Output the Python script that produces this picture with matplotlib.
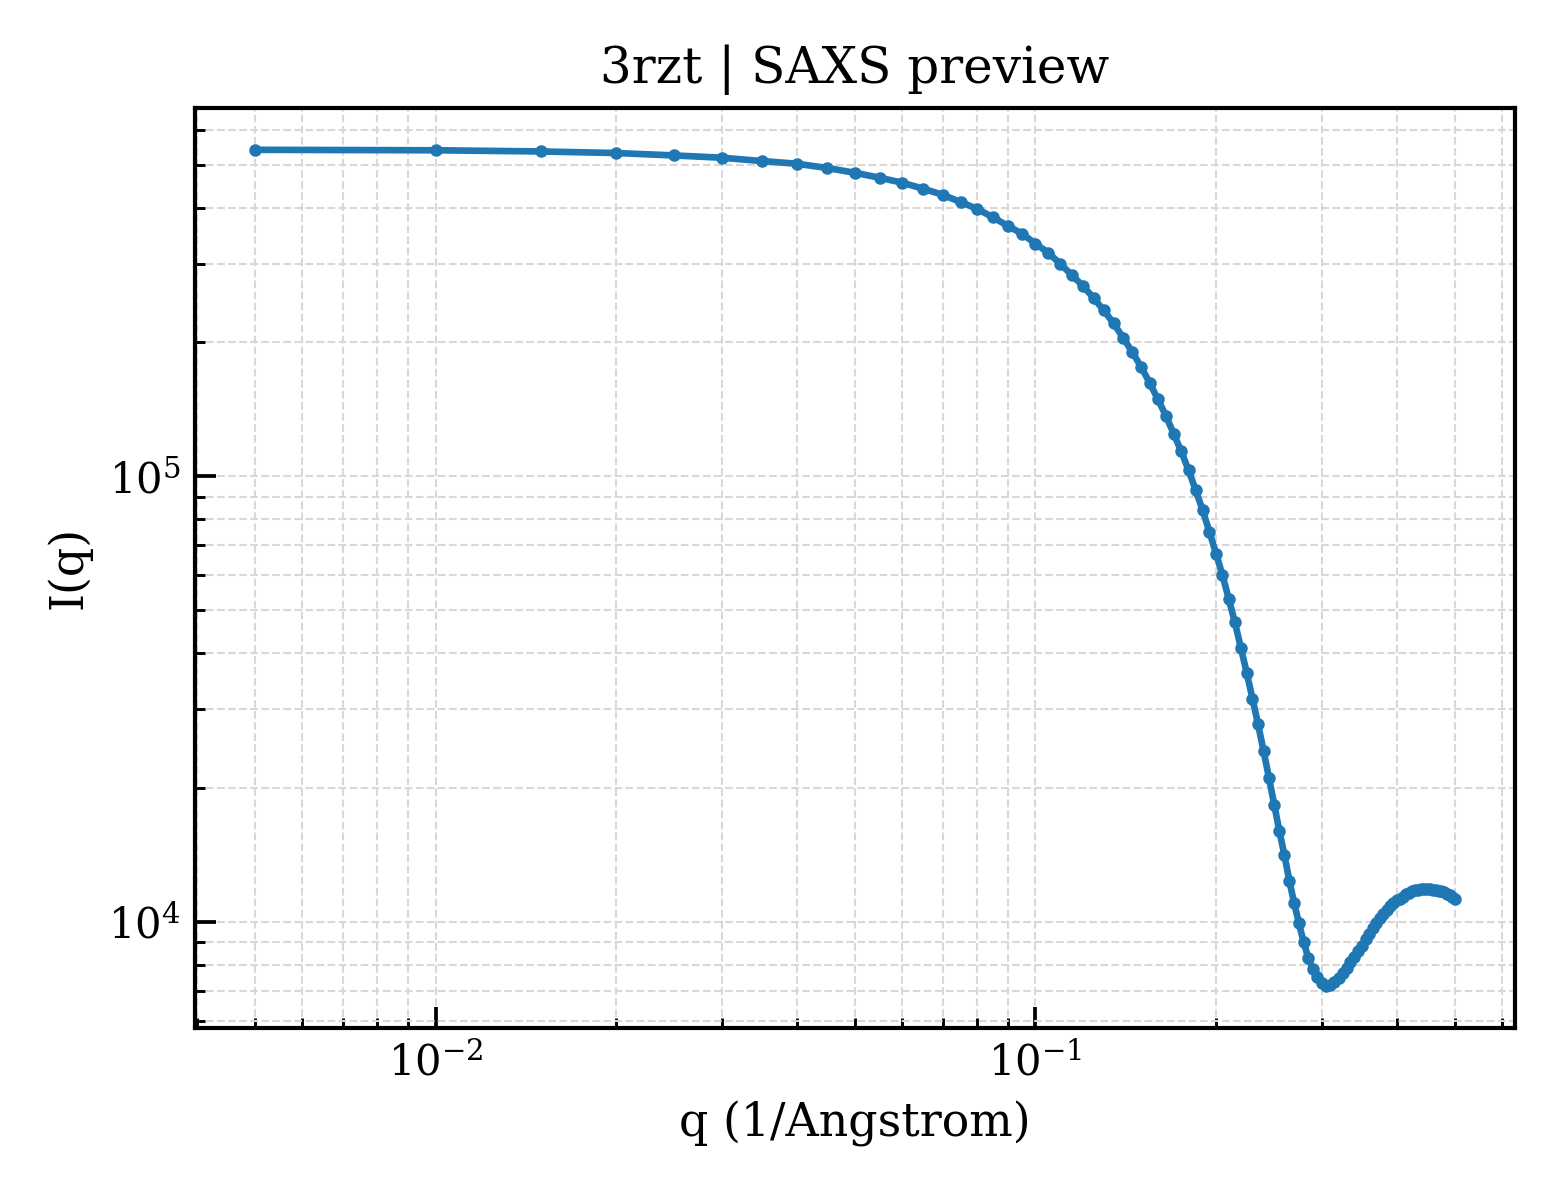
import matplotlib
matplotlib.use("Agg")
from matplotlib import pyplot as plt

q = [round(0.005 * (i + 1), 3) for i in range(100)]
intensity = [
    5.405e5, 5.392e5, 5.359e5, 5.316e5, 5.250e5, 5.188e5, 5.100e5, 5.030e5, 4.919e5, 4.800e5,
    4.678e5, 4.559e5, 4.420e5, 4.285e5, 4.127e5, 3.981e5, 3.811e5, 3.645e5, 3.503e5, 3.327e5,
    3.176e5, 2.997e5, 2.829e5, 2.674e5, 2.513e5, 2.356e5, 2.204e5, 2.046e5, 1.901e5, 1.760e5,
    1.622e5, 1.488e5, 1.366e5, 1.246e5, 1.137e5, 1.031e5, 9.298e4, 8.385e4, 7.499e4, 6.704e4,
    5.994e4, 5.304e4, 4.700e4, 4.119e4, 3.619e4, 3.169e4, 2.775e4, 2.418e4, 2.106e4, 1.832e4,
    1.600e4, 1.410e4, 1.235e4, 1.099e4, 9.907e3, 8.981e3, 8.298e3, 7.823e3, 7.494e3, 7.265e3,
    7.172e3, 7.209e3, 7.322e3, 7.475e3, 7.651e3, 7.852e3, 8.100e3, 8.353e3, 8.594e3, 8.841e3,
    9.122e3, 9.384e3, 9.654e3, 9.907e3, 1.017e4, 1.041e4, 1.062e4, 1.082e4, 1.099e4, 1.116e4,
    1.127e4, 1.139e4, 1.151e4, 1.160e4, 1.169e4, 1.175e4, 1.181e4, 1.184e4, 1.187e4, 1.187e4,
    1.184e4, 1.181e4, 1.178e4, 1.172e4, 1.169e4, 1.163e4, 1.154e4, 1.145e4, 1.136e4, 1.127e4,
]

title = "3rzt | SAXS preview"
xlabel = "q (1/Angstrom)"
ylabel = "I(q)"


def plot_curve(filename):
    plt.rcParams["font.family"] = "DejaVu Serif"
    plt.rcParams["mathtext.fontset"] = "dejavuserif"
    fig, ax = plt.subplots(figsize=(5.2, 4), dpi=300)
    fig.subplots_adjust(left=0.125, right=0.971, top=0.91, bottom=0.1435)

    ax.plot(q, intensity, "-o", color="#1f77b4", linewidth=1.6, markersize=2.0)
    ax.set_xscale("log")
    ax.set_yscale("log")

    ax.set_title(title, fontsize=12)
    ax.set_xlabel(xlabel, fontsize=11)
    ax.set_ylabel(ylabel, fontsize=11)

    ax.grid(True, which="both", linestyle="--", linewidth=0.5, color="#d8d8d8")
    ax.tick_params(which="both", direction="in", labelsize=10)
    ax.tick_params(which="major", length=5, width=0.9)
    ax.tick_params(which="minor", length=2.5, width=0.7)
    for spine in ax.spines.values():
        spine.set_linewidth(1.0)

    fig.savefig(filename, dpi=300)
    plt.close(fig)


def main():
    plot_curve("out.png")


if __name__ == "__main__":
    main()
